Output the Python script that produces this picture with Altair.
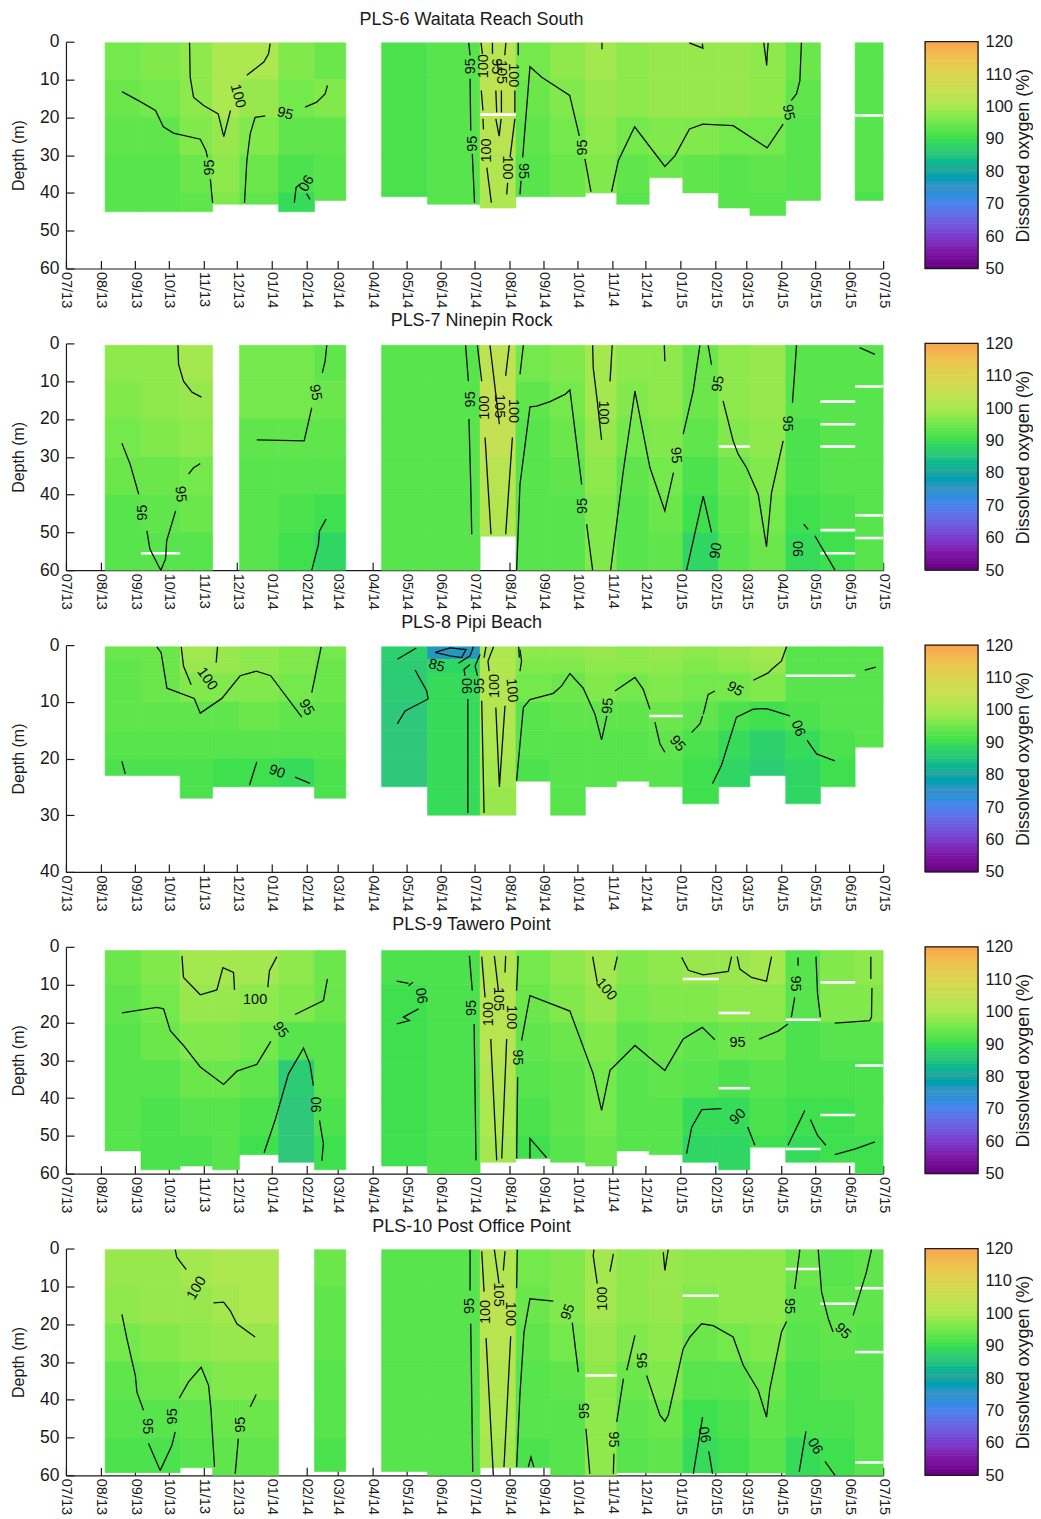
import json
import altair as alt
import pandas as pd

FONT = "Liberation Sans"
INK = "#1a1a1a"

MONTH_LABELS = ["07/13","08/13","09/13","10/13","11/13","12/13","01/14","02/14","03/14","04/14","05/14","06/14",
                "07/14","08/14","09/14","10/14","11/14","12/14","01/15","02/15","03/15","04/15","05/15","06/15","07/15"]
MONTH_DAYS = [0,31,62,92,123,153,184,215,243,274,304,335,365,396,427,457,488,518,549,580,608,639,669,700,730]
COLUMN_EDGES = [35,67,102,131,155,190,222,250,282,323,370,402,433,464,492,521,551,583,611,643,674,705,730]

COLOR_VALUES = [50,55,60,65,70,75,80,85,90,95,100,105,110,115,120]
COLOR_RANGE = ["#6a0085","#7f18a8","#7a3fd0","#6a65e0","#4a85ee","#3a94c5","#28a79a","#2fc77a","#3ee04e",
               "#74e94c","#ace850","#c8df55","#ddd450","#efc050","#f9a050"]
COLORBAR_STEPS = list(range(50, 120))

BANDS_60 = [0,10,20,30,40,50,60]
BANDS_40 = [0,2.5,5,10,15,20,25,30]

P6_TITLE = "PLS-6 Waitata Reach South"
P6_TOP = 0.3
P6_BOTTOMS = [45,45,45,43,43,45,42,None,41,43,44,41,41,40,43,36,40,44,46,42,None,42]
P6_VALUES = [
 [95,94,93,92,92],[96,95,93,92,92],[97,97,96,94,93],[100,100,98,97,96],[100,98,96,94,93],[96,95,93,91,89],
 [94,96,93,92,92],None,[91,91,91,91,90.5],[92,92,92,92,92],[102,103,102,101,100],[95,94,93,92,92],
 [97,96,95,94,94],[99,98,97,96,95],[97,97,95,93,92],[98,98,96,94],[98,98,96,93],[98,98,95,92,92],
 [97,97,95,93,92],[94,93,92,92,92],None,[92,92,92,92,91]]
P6_SLITS = [(10,19.3),(21,19.5)]
P6_LINES = [
 [(50,13.2),(66,15.8),(80,18.2),(87,22.5),(96,24.2),(120,25.8),(125,28.8),(126.5,30.6)],
 [(129,36.4),(131,42.6)],
 [(110.4,0.3),(111,9.4),(114,14.7),(123,16.9),(136,19.1),(141,25.1),(147,18.2)],
 [(182.4,0.5),(181,3.2),(176.7,5.4),(161.6,8.9)],
 [(178,19.6),(169,20),(164.6,24.4),(161.6,31.5),(159.5,42.6)],
 [(213.7,17.3),(224,16),(231.5,13.8),(233.6,11.6)],
 [(204,42.6),(205.6,38.6),(209,37.7)],[(215,40.2),(218,41.7)],
 [(359.8,0.3),(361,3.6)],[(361,9.8),(361.6,23.5)],[(363,29.7),(365,42.6)],
 [(370.8,0.3),(372,3.2)],[(371,12.9),(372.5,18.2)],[(372.5,20.4),(373,23.2)],[(376,33.3),(380,42.6)],
 [(381,0.3),(381,3.2)],[(384,12.9),(384.8,18.7)],[(389,12.9),(389,18.7)],[(384,20.4),(387,25),(388.7,20.4)],
 [(393,0.3),(392,3.6)],[(404,0.3),(404,3.6)],
 [(401,12.9),(401,18.7)],[(401,20.4),(396.7,30.6)],[(394.6,37.3),(393.7,40.4)],
 [(405.6,40.4),(406.5,36.8)],
 [(408,30.6),(414.5,6.6),(425,9.4),(450,14.2),(458.6,24.9)],[(463.6,31),(469,39.7)],
 [(478.8,0.3),(478.8,2)],[(556.8,0.3),(569,1.7),(568.5,0.5)],
 [(623.4,0.3),(625,4),(626,6.3),(626.5,3.2),(627.3,0.3)],
 [(657,0.3),(655.6,10.3),(652.6,13.8),(648,15.5)],
 [(640.7,21.8),(626.4,28.1),(596,22.2),(569,21.8),(557,23.1),(544,30.2),(535,33),(508,22.5),(493.4,31.5),(487.4,39.7)],
]
P6_LABELS = [
 (153.3,14.4,"100",75),(195.8,19.1,"95",15),(128.9,33.3,"95",270),(213.7,37.3,"90",120),
 (361.6,6.5,"95",270),(373.5,6.5,"100",270),(384,6.5,"95",90),(389,8,"105",90),(399.7,8.9,"100",90),
 (364,27,"95",270),(376,28.8,"100",270),(393.7,33.3,"100",90),(408.6,34.2,"95",90),
 (462,28,"95",270),(645,18.7,"95",80)]

P7_TITLE = "PLS-7 Ninepin Rock"
P7_TOP = 0.5
P7_BOTTOMS = [60,60,60,None,60,60,60,None,60,60,51,60,60,60,60,60,60,60,60,60,60,60]
P7_VALUES = [
 [97,96,95,94,92,92],[97,97,96,94,93,92],[99,98,97,95,94,92],None,[95,95,93,92,92,92],[95,95,93,92,91,90],
 [93,94,93,92,90,88],None,[92,92,92,92,92,92],[92,92,92,92,92,92],[103,104,104,102,101,100],[95,93,92,92,92,92],
 [96,95,94,93,92,92],[99,99,98,97,96,96],[97,96,95,93,92,92],[97,97,96,95,94,93],[94,94,93,91,90,88],
 [97,97,96,94,93,92],[98,98,97,96,95,94],[92,92,91,91,90,89],[92,92,92,92,91,90],[92,92,92,92,92,92]]
P7_SLITS = [(1,55.5),(17,27.3),(20,15.4),(20,21.4),(20,27.3),(20,49.4),(20,55.5),(21,11.4),(21,45.5),(21,51.5)]
P7_LINES = [
 [(100,0.5),(100.6,5.5),(105,10),(112.6,12.9),(121,14.2)],
 [(50,26.4),(57.4,32),(65,39.9)],[(72.3,49.6),(75,54.4),(82.7,58.9),(84.8,60)],
 [(84.8,60),(89,57),(90,52.2),(98,44.3)],[(109.5,34.6),(114,32.9),(120,31.8)],
 [(233,0.5),(231.5,4.7),(229,7.8)],[(219.6,17),(212.8,25.8),(170.5,25.5)],
 [(232.4,46.5),(226.5,49.6),(225.6,53.1),(219.6,60)],
 [(357,0.5),(359.5,10)],[(360,20),(361.6,37.3),(362.5,50.5)],
 [(367.5,0.5),(371.4,10)],[(374.4,24.9),(379.7,50.5)],[(378.8,0.5),(387.2,21.4)],
 [(396,0.5),(392.8,8.6)],[(398.8,24.9),(392.8,50.5)],[(408.6,0.5),(405.6,8.2)],
 [(402.6,60),(405.6,37.3),(414.5,16.8),(420.5,16.6),(432.4,15.4),(445.8,13.5),(450.2,12.3),(460.7,37.3)],
 [(465.1,47.8),(470.5,60)],
 [(470.5,0.5),(471,6.4),(474.6,15.2),(478.5,25.6)],[(488,0.5),(486,10.1)],
 [(486.6,60),(497.9,33.7),(508.3,12.6),(521.7,32.9),(535,44.3),(542.7,34.2)],[(551.4,24),(560.3,12.6),(566.3,0.5)],
 [(534.5,0.5),(535,4.7)],[(573.7,0.5),(576.7,5.7)],
 [(587,15.2),(596,25.8),(600.5,29.3),(608,32.9),(618.4,39.9),(625.8,53.8),(630.3,39.5),(640.7,25.8)],
 [(649,15.7),(651,7.5),(652.6,0.5)],
 [(554.4,60),(569.3,40.4),(576.7,50)],[(659,47.8),(663,49.2)],[(669,50.9),(687,60)],[(709,1.1),(722.6,2.9)],
]
P7_LABELS = [
 (69,44.8,"95",270),(102,39.9,"95",85),(222.6,13,"95",80),(361.6,14.8,"95",270),(374.4,17,"100",270),
 (387,16.6,"105",90),(399.7,17.9,"100",90),(462,43,"95",270),(480,18.3,"100",90),(544.6,29.6,"95",85),
 (583,10.7,"95",280),(643.7,21.2,"95",90),(581,54.9,"90",280),(655,54.4,"90",270)]

P8_TITLE = "PLS-8 Pipi Beach"
P8_TOP = 0.3
P8_BOTTOMS = [23,23,27,25,25,25,27,None,25,30,30,24,30,25,24,25,28,25,23,28,25,18]
P8_VALUES = [
 [94,93,93,93,92,91],[94,94,94,93,92,91],[99,98,96,93,92,91,91],[98,98,96,93,92,90,90],[97,97,96,94,92,90],
 [96,96,95,93,92,89],[95,94,94,93,92,91,91],None,[87,86,86,85,85,85],[76,88,89,89,89,89,89],
 [100,101,101,101,100,99,98],[97,96,95,92,92,91],[97,96,94,93,92,92,92],[98,97,96,93,92,92],[97,97,95,93,92,92],
 [98,97,96,94,93,92],[97,96,95,93,91,90,90],[98,97,95,91,89,88],[99,98,96,90,87,86],[92,92,92,91,89,88,88],
 [92,92,92,92,91,90],[92,92,92,92,92]]
P8_SLITS = [(15,12.5),(19,5.4),(20,5.4)]
P8_LINES = [
 [(81.2,0.3),(85,1.3),(90.2,7.6),(114.6,9.4),(120,12),(139.3,9.4),(155.6,5.4),(170,4.6),(182.9,5.4),(210.7,12.7)],
 [(219.6,8.4),(228,0.3)],[(103,0.3),(105,3.7),(111.9,7)],[(135.4,0.3),(134.2,3.1)],[(50,20.5),(53,22.7)],
 [(170.5,20.6),(164,24.7)],[(204.7,23.3),(218,24.4)],[(296,2.5),(313,0.5)],
 [(311.9,4.4),(322.3,8.1),(323.5,9.5),(303,11.6),(296,13.9)],
 [(329.7,1.3),(343,0.5),(357.4,0.8),(353.5,2.2),(343,1.9),(329.7,1.3)],
 [(350.6,3.2),(361,1.9),(364,0.3)],[(361,3.4),(355.6,4.3),(356.5,5.4)],[(359,9.5),(359,29.6)],
 [(370,1.6),(365.5,3.7),(367.6,5.4)],[(371.4,9.8),(373.5,29.6)],[(382,0.3),(377,2.8),(378,4.6)],
 [(375.2,0.3),(373.5,2.2)],[(384,11),(387.2,25),(392.2,10.7)],[(404.4,0.3),(405,2.2)],
 [(405.6,0.8),(407,2.8),(405.6,4.6)],
 [(402.6,23.9),(408.6,11),(414.5,9.6),(435.4,8.5),(442.8,7.2),(450.2,5),(462.1,7.6),(472.6,12.2),(478.5,16.7),(483.2,12.5)],
 [(490.4,8.1),(508.3,5.7),(515.7,7.8),(521.7,11.3)],[(526.1,13.6),(530.6,17.4),(535,18.9)],
 [(559,15.4),(566.3,13.9),(568.7,12.5)],[(569.3,12.2),(573.7,8.7),(579.7,8.1)],
 [(614,6.2),(627.3,4.9),(630.3,4.3),(639.2,2.8),(643.7,0.3)],[(713.6,4.4),(723.4,3.9)],
 [(577.6,24.4),(585.6,21.2),(599,12.7),(614,11.3),(625.8,11.2),(646.7,12.5)],
 [(662.1,16.8),(670.5,19.2),(686.8,20.4)],
]
P8_LABELS = [
 (125.9,6,"100",55),(214.6,11,"95",60),(188.4,22.4,"90",20),(331,3.7,"85",15),(359,7.2,"90",270),
 (370,7.2,"95",270),(383,7.2,"100",270),(398,8,"100",85),(484.5,10.7,"95",275),(546,17.4,"95",50),
 (597.6,7.8,"95",30),(655.6,14.6,"90",250)]

P9_TITLE = "PLS-9 Tawero Point"
P9_TOP = 1
P9_BOTTOMS = [54,59,58,59,55,57,59,None,58,60,57,56,57,58,54,55,57,59,53,57,57,60]
P9_VALUES = [
 [94,93,92,92,92,92],[96,95,94,92,91,91],[99,98,96,94,92,91],[99,98,96,94,92,92],[99,97,95,93,91,90],
 [97,96,92,86,85,85],[94,94,92,92,91,90],None,[91,90,90,90,90,90],[91,91,91,91,91,91],[101,102,102,101,100,99],
 [95,94,93,92,91,90],[97,96,94,93,93,92],[99,98,96,95,95,94],[96,95,93,92,92,92],[97,96,94,93,92,92],
 [98,96,93,92,89,88],[98,97,94,91,89,88],[99,97,94,92,91,90],[92,92,91,91,90,89],[96,96,92,91,90,90],[97,96,92,91,91,90]]
P9_SLITS = [(16,8.5),(17,17.5),(17,37.4),(20,9.4),(20,44.5),(19,19.3),(19,53.5),(21,31.4)]
P9_LINES = [
 [(50,17.5),(81.2,16),(87.2,16.4),(93.2,22.2),(105,26.1),(120,31.8),(140.8,36.4),(152.7,32.9),(170.5,31.1),(183,25)],
 [(204.7,17.9),(230,14.2),(233.6,8.5)],
 [(103.6,2.4),(105,8.1),(120,12.7),(134.8,11.4),(140.2,5.5),(149.7,6.8),(150.6,11.4)],
 [(188.4,2.6),(181.8,6.3),(180.3,10.7)],
 [(177,54.5),(186.8,45.9),(198.8,33.6),(212.2,26.8),(218,31),(221,36.7)],[(226.5,45.9),(230,52.1),(228.6,56.6)],
 [(295.5,9.1),(306,9.7)],[(306,10.3),(310,9.4)],[(315,16.4),(301.5,18.6),(306.8,19.5),(295.5,20.4)],
 [(360.4,2.4),(363,11.6)],[(364.6,20.4),(366.3,56.5)],[(371.4,2.6),(374.4,13.4)],[(379.5,24.4),(384.8,56.5)],
 [(382.7,2.4),(386.3,11.6)],[(392.8,2.4),(392.2,6.8)],[(393.7,24.4),(389.3,56)],[(404,2.4),(402.6,11.6)],
 [(402.6,56),(403.5,34.5)],
 [(407,24.8),(414.5,12.9),(450.2,17),(471,33.6),(478.5,43.3),(486,32.7),(508.3,26.1),(535,32.7),(551.4,24.4),(568.4,21.3),(579.7,24.6)],
 [(619.3,24.4),(636.2,22.3),(645,20.4)],
 [(470.5,2.6),(474.6,9.4)],[(492.5,2.6),(489.8,6.2)],
 [(550,2.8),(556,6.2),(569.3,7.4),(591.6,6.5),(594.6,2.6)],
 [(599.6,2.6),(602,5.9),(612.4,8.1),(625.8,9.1),(630.3,2.6)],
 [(654,2.8),(654,5)],[(651,13.4),(648,18.6)],[(670,2.6),(671.4,12.5),(674,18.6)],
 [(719,2.6),(719,8.5)],[(720,10.9),(719.6,18.6),(718,19.5),(686.8,20.2)],
 [(554.4,54.7),(559,47.7),(568,43.1),(585.6,42.8)],[(609,47.7),(615.4,52.5)],
 [(645,52.5),(660,43.3)],[(665,45.7),(671.4,49.9),(678.8,52.5)],[(686.8,55),(706,53.4),(722.6,51.6)],
 [(414.5,56),(414.5,50.7),(429.4,55.8)],
]
P9_LABELS = [
 (169,14.2,"100",0),(191.4,22,"95",55),(224,41.8,"90",270),(318.7,12.9,"90",260),(363,16.2,"95",270),
 (377.5,17.8,"100",270),(386.3,13.8,"105",90),(398,18.6,"100",90),(403,29.2,"95",90),(482.4,11.3,"100",50),
 (600,25.4,"95",0),(600.5,45,"90",315),(651,9.7,"95",90)]

P10_TITLE = "PLS-10 Post Office Point"
P10_TOP = 0.3
P10_BOTTOMS = [59.3,59.3,58,60,60,None,59,None,59,60,58,58,60,60,59.3,59.4,59.4,59.4,59.4,60,60,60]
P10_VALUES = [
 [98,97,95,93,92,91],[98,98,96,94,92,91],[99,98,97,95,93,92],[100,99,98,96,94,93],[100,100,98,96,94,93],None,
 [94,93,93,92,92,91],None,[92,92,92,92,92,92],[92,92,92,92,92,92],[101,103,102,101,100,99],[95,94,93,92,92,91],
 [96,96,95,93,92,92],[99,99,98,97,97,97],[97,97,96,94,93,92],[98,98,97,96,94,93],[97,96,94,92,90,89],
 [97,97,95,92,91,90],[97,97,96,94,93,92],[94,93,92,91,91,89],[92,93,93,92,91,90],[93,93,92,92,92,92]]
P10_SLITS = [(13,33.6),(16,12.5),(19,5.4),(20,14.6),(21,10.5),(21,27.4),(21,56.6)]
P10_LINES = [
 [(97.6,0.3),(99,2.3),(107.5,5.6)],[(131.8,14.4),(140.8,14.2),(146.7,16.4),(152.7,19.9),(169,23.4)],
 [(50,17.4),(54.5,23.9),(62,33.6),(63.4,38),(69.3,42.8)],[(73.8,51.6),(84.2,58.7)],
 [(84.2,58.7),(94.6,52.1),(97.6,48.5)],[(101.2,39.6),(109.5,35.3),(120.8,31.4),(127.4,36.2),(129.5,42.4),(132.7,57.8)],
 [(170,38.6),(164.6,41.9)],[(154,50.3),(151.2,59.6)],
 [(361,0.3),(361,11.1)],[(361.6,19.9),(363.4,59.1)],[(371.4,0.7),(373.5,11.4)],[(375.3,23.7),(381.8,60)],
 [(382.7,0.3),(386.9,9.3)],[(392.2,0.7),(390.7,5.8)],[(397.3,23.2),(391.3,57.8)],[(403.2,0.3),(402.6,10.5)],
 [(402.6,57.8),(405.6,38.4),(409.2,22.1),(414.5,13.3),(435.4,13.9)],[(452.3,19.6),(457.7,32.7)],[(464.5,47.7),(468,59.6)],
 [(471.7,0.3),(471,1.9),(474.6,9.3)],[(489,1.4),(486,6.1)],[(533.6,1),(535,5.8),(538,0.3)],
 [(508.3,23),(501,32.2)],[(492,45.9),(498,34.4)],[(489.5,54.3),(489,59.6)],
 [(518.7,33.6),(530.6,44.1),(535,45.7),(538,44.1),(551.4,26.5),(557.4,23.4),(567.8,19.9),(578.2,20.4),(596,23.4),(605,30.9),(618.4,37.5),(625.8,44.6),(628.8,37.1),(639.2,22.1),(643.7,19.3)],
 [(651,10.7),(655.6,0.3)],[(672,0.3),(675,11.5),(681,18.6),(685.3,22.1)],[(703.2,17.7),(715,6.3),(719.6,0.3)],
 [(568.7,44.6),(560.4,59.6)],[(574.3,53.7),(577.6,59.6)],[(661,48.4),(655,59.1)],[(678,56.3),(687,60)],
 [(413,57.8),(415.4,55.2),(418,57.8)],
]
P10_LABELS = [
 (117,10.5,"100",300),(72,47,"95",90),(96,44.4,"95",270),(156.2,46.6,"95",270),(361,15.2,"95",270),
 (375.3,16.8,"100",270),(385.7,12.2,"105",90),(396.7,17.3,"100",90),(448.8,16.8,"95",290),(463.6,43,"95",270),
 (480,13.3,"100",270),(515.7,29.6,"95",270),(488.3,50.5,"95",90),(646,15.2,"95",90),(693.7,21.9,"95",45),
 (571.7,49.2,"90",260),(670.5,52.1,"90",240)]

PANELS = [
 (P6_TITLE,P6_TOP,P6_BOTTOMS,P6_VALUES,P6_SLITS,P6_LINES,P6_LABELS,BANDS_60,60),
 (P7_TITLE,P7_TOP,P7_BOTTOMS,P7_VALUES,P7_SLITS,P7_LINES,P7_LABELS,BANDS_60,60),
 (P8_TITLE,P8_TOP,P8_BOTTOMS,P8_VALUES,P8_SLITS,P8_LINES,P8_LABELS,BANDS_40,40),
 (P9_TITLE,P9_TOP,P9_BOTTOMS,P9_VALUES,P9_SLITS,P9_LINES,P9_LABELS,BANDS_60,60),
 (P10_TITLE,P10_TOP,P10_BOTTOMS,P10_VALUES,P10_SLITS,P10_LINES,P10_LABELS,BANDS_60,60),
]

W, H = 818, 227
color_scale = alt.Scale(domain=COLOR_VALUES, range=COLOR_RANGE, clamp=True)
label_expr = "%s[indexof(%s, datum.value)]" % (json.dumps(MONTH_LABELS), json.dumps(MONTH_DAYS))


def depth_ticks(max_depth):
    return [d for d in [0, 10, 20, 30, 40, 50, 60] if d <= max_depth]


def panel(title, top, bottoms, values, slits, lines, labels, bands, max_depth):
    xs = alt.Scale(domain=[0, 730], nice=False, zero=False)
    ys = alt.Scale(domain=[0, max_depth], reverse=True, nice=False, zero=False)
    cells = []
    for c, (row, bot) in enumerate(zip(values, bottoms)):
        if row is None:
            continue
        for i, v in enumerate(row):
            lo, hi = max(bands[i], top), min(bands[i + 1], bot)
            if lo < hi:
                cells.append(dict(x=COLUMN_EDGES[c], x2=COLUMN_EDGES[c + 1], y=lo, y2=hi, v=v))
    heat = alt.Chart(pd.DataFrame(cells)).mark_rect(strokeWidth=0.6).encode(
        x=alt.X("x:Q", scale=xs, title=None, axis=alt.Axis(
            values=MONTH_DAYS, labelExpr=label_expr, labelAngle=90, ticks=False, grid=False,
            labelOverlap=False, labelFlush=False, labelBound=False, labelFont=FONT, labelFontSize=14.5,
            labelColor=INK, labelPadding=3, domainColor=INK, domainWidth=1.2)),
        x2="x2:Q",
        y=alt.Y("y:Q", scale=ys, title="Depth (m)", axis=alt.Axis(
            values=depth_ticks(max_depth), ticks=False, grid=False, labelFont=FONT, labelFontSize=17.5,
            labelColor=INK, labelPadding=7, titleFont=FONT, titleFontSize=16, titleFontWeight="normal",
            titleColor=INK, titlePadding=13, domainColor=INK, domainWidth=1.2, labelOverlap=False)),
        y2="y2:Q",
        color=alt.Color("v:Q", scale=color_scale, legend=None),
        stroke=alt.Stroke("v:Q", scale=color_scale, legend=None),
    )
    slit_df = pd.DataFrame([dict(x=COLUMN_EDGES[c], x2=COLUMN_EDGES[c + 1], y=d) for c, d in slits])
    slit = alt.Chart(slit_df).mark_rule(color="white", strokeWidth=2.6).encode(
        x=alt.X("x:Q", scale=xs, axis=None), x2="x2:Q", y=alt.Y("y:Q", scale=ys, axis=None))
    line_rows = []
    for n, pts in enumerate(lines):
        for k, (d, z) in enumerate(pts):
            line_rows.append(dict(line=n, k=k, x=d, y=z))
    contour = alt.Chart(pd.DataFrame(line_rows)).mark_line(color="#0c0c0c", strokeWidth=1.3).encode(
        x=alt.X("x:Q", scale=xs, title=None, axis=alt.Axis(
            orient="top", offset=-H, values=MONTH_DAYS, labels=False, domain=False, grid=False,
            tickSize=8, tickColor=INK, tickWidth=1.2)),
        y=alt.Y("y:Q", scale=ys, title=None, axis=alt.Axis(
            orient="right", offset=-W, values=depth_ticks(max_depth), labels=False, domain=False, grid=False,
            tickSize=8, tickColor=INK, tickWidth=1.2)),
        detail="line:N", order="k:Q")
    text_df = pd.DataFrame([dict(x=d, y=z, t=t, a=a) for d, z, t, a in labels])
    text = alt.Chart(text_df).mark_text(font=FONT, fontSize=14.5, color="#0c0c0c", align="center", baseline="middle").encode(
        x=alt.X("x:Q", scale=xs, axis=None), y=alt.Y("y:Q", scale=ys, axis=None),
        text="t:N", angle=alt.Angle("a:Q", scale=None))
    left = alt.layer(heat, slit, contour, text).resolve_axis(x="independent", y="independent").properties(
        width=W, height=H,
        title=alt.TitleParams(title, font=FONT, fontSize=18, fontWeight="normal", color=INK, offset=4, dx=-3))

    bx = alt.Scale(domain=[0, 1], nice=False, zero=False)
    by = alt.Scale(domain=[50, 120], nice=False, zero=False)
    bar = alt.Chart(pd.DataFrame(dict(x=[0] * len(COLORBAR_STEPS), x2=[1] * len(COLORBAR_STEPS), y=COLORBAR_STEPS,
                                      y2=[v + 1 for v in COLORBAR_STEPS]))).mark_rect(strokeWidth=0.8).encode(
        x=alt.X("x:Q", scale=bx, axis=None), x2="x2:Q",
        y=alt.Y("y:Q", scale=by, title="Dissolved oxygen (%)", axis=alt.Axis(
            orient="right", values=[50,60,70,80,90,100,110,120], ticks=False, domain=False, grid=False,
            labelFont=FONT, labelFontSize=16.5, labelColor=INK, labelPadding=7, titleFont=FONT, titleFontSize=18,
            titleFontWeight="normal", titleColor=INK, titleAngle=270, titlePadding=20, labelOverlap=False)),
        y2="y2:Q",
        color=alt.Color("y:Q", scale=color_scale, legend=None),
        stroke=alt.Stroke("y:Q", scale=color_scale, legend=None))
    frame = alt.Chart(pd.DataFrame(dict(x=[0], x2=[1], y=[50], y2=[120]))).mark_rect(
        fill=None, stroke=INK, strokeWidth=1.3).encode(
        x=alt.X("x:Q", scale=bx, axis=None), x2="x2:Q",
        y=alt.Y("y:Q", scale=by, title=None, axis=alt.Axis(
            orient="left", offset=-53, values=[60,70,80,90,100,110], labels=False, domain=False, grid=False,
            tickSize=3, tickColor=INK)),
        y2="y2:Q")
    right = alt.layer(bar, frame).resolve_axis(y="independent").properties(width=53, height=H)
    return alt.hconcat(left, right, spacing=33)


chart = alt.vconcat(*[panel(*p) for p in PANELS], spacing=4).properties(
    padding=alt.Padding(left=2, right=0, top=2, bottom=0)
).configure_view(stroke=None)
chart.save("out.html", embed_options={"renderer": "svg", "actions": False})
